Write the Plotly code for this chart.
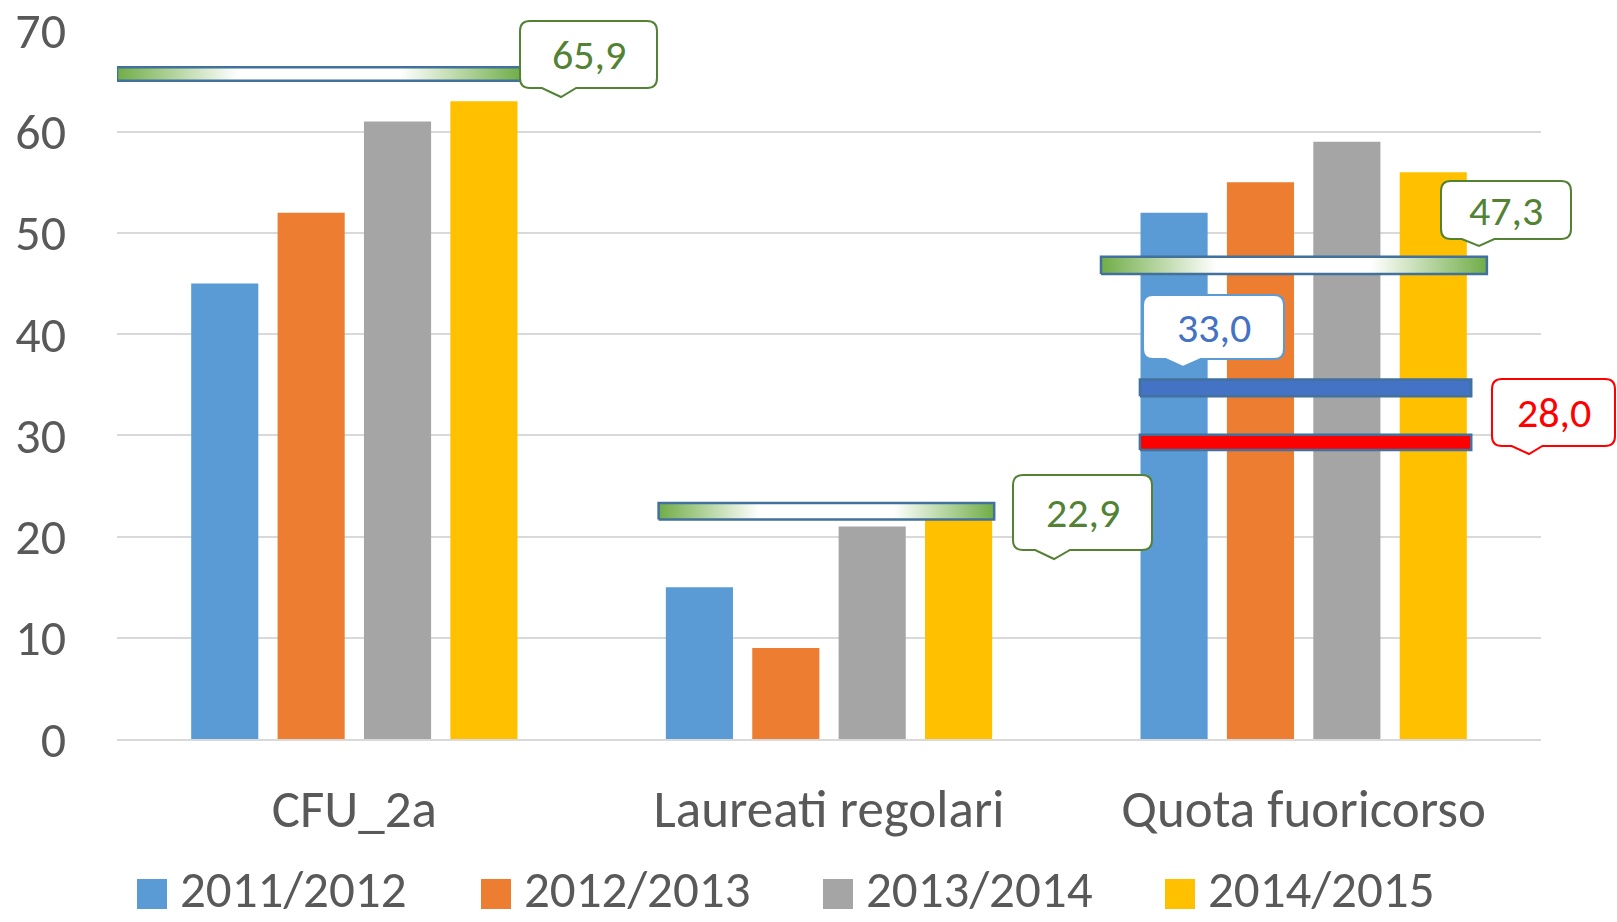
import plotly.graph_objects as go

# ---------------- data ----------------
categories = ["CFU_2a", "Laureati regolari", "Quota fuoricorso"]
years = ["2011/2012", "2012/2013", "2013/2014", "2014/2015"]
v_2011_2012 = [45, 15, 52]
v_2012_2013 = [52, 9, 55]
v_2013_2014 = [61, 21, 59]
v_2014_2015 = [63, 22, 56]
series_values = [v_2011_2012, v_2012_2013, v_2013_2014, v_2014_2015]

# reference (target) lines: label and level
target_labels = ["65,9", "22,9", "47,3", "33,0", "28,0"]
target_levels = [65.7, 22.5, 46.8, 34.7, 29.3]
target_category = [0, 1, 2, 2, 2]

# ---------------- style / layout ----------------
bar_colors = ["#5B9BD5", "#ED7D31", "#A5A5A5", "#FFC000"]
FONT = "Carlito, Lato, sans-serif"
TXT = "#595959"
W, H = 1617, 922
L, T = 117, 30
R = W - 1541
B = H - 739
PW, PH = W - L - R, H - T - B

# per-line horizontal extent relative to category centre, thickness (units), style
line_ext = [(-0.50, 0.352), (-0.359, 0.348), (-0.427, 0.386), (-0.345, 0.353), (-0.345, 0.353)]
line_thick = [1.35, 1.65, 1.7, 1.65, 1.5]
line_fill = ["grad", "grad", "grad", "#4472C4", "#FF0000"]
GRAD = [[0, "#70AD47"], [0.3, "#FFFFFF"], [0.7, "#FFFFFF"], [1, "#70AD47"]]

# callout boxes in page pixels: (x0, y0, x1, y1, tipx, tipy), border colour, text colour
callouts = [
    ((520, 21, 657, 88, 561, 97), "#548235", "#548235"),
    ((1013, 475, 1152, 550, 1054, 559), "#548235", "#548235"),
    ((1441, 181, 1571, 239, 1479, 246), "#548235", "#548235"),
    ((1143, 295, 1284, 359, 1183, 367), "#5B9BD5", "#4472C4"),
    ((1492, 379, 1615, 446, 1529, 454), "#FF0000", "#FF0000"),
]


def pxx(p):
    return (p - L) / PW


def pxy(p):
    return (H - B - p) / PH


fig = go.Figure()

for name, vals, col in zip(years, series_values, bar_colors):
    fig.add_trace(go.Bar(x=categories, y=vals, name=name, marker_color=col,
                         marker_line_width=0, showlegend=False))

# target lines drawn as filled rectangles on an overlaying linear x axis
for lvl, cat, ext, th, fl in zip(target_levels, target_category, line_ext, line_thick, line_fill):
    xa, xb = cat + ext[0], cat + ext[1]
    ya, yb = lvl - th / 2, lvl + th / 2
    kw = dict(x=[xa, xb, xb, xa, xa], y=[ya, ya, yb, yb, ya], mode="lines",
              fill="toself", line=dict(color="#41719C", width=2.5),
              xaxis="x2", yaxis="y", showlegend=False, hoverinfo="skip")
    if fl == "grad":
        kw["fillgradient"] = dict(type="horizontal", colorscale=GRAD)
    else:
        kw["fillcolor"] = fl
    fig.add_trace(go.Scatter(**kw))

shapes = []
annotations = []

# callouts
for (box, bcol, tcol), lab in zip(callouts, target_labels):
    x0, y0, x1, y1, tx, ty = box
    w = x1 - x0
    r = 10
    bl, br = x0 + 0.16 * w, x0 + 0.41 * w
    pts = [
        ("M", [(x0 + r, y0)]),
        ("L", [(x1 - r, y0)]),
        ("Q", [(x1, y0), (x1, y0 + r)]),
        ("L", [(x1, y1 - r)]),
        ("Q", [(x1, y1), (x1 - r, y1)]),
        ("L", [(br, y1)]),
        ("L", [(tx, ty)]),
        ("L", [(bl, y1)]),
        ("L", [(x0 + r, y1)]),
        ("Q", [(x0, y1), (x0, y1 - r)]),
        ("L", [(x0, y0 + r)]),
        ("Q", [(x0, y0), (x0 + r, y0)]),
    ]
    path = ""
    for cmd, ps in pts:
        path += cmd + " ".join(f"{pxx(a):.5f},{pxy(b):.5f}" for a, b in ps) + " "
    path += "Z"
    shapes.append(dict(type="path", path=path, xref="paper", yref="paper",
                       fillcolor="white", line=dict(color=bcol, width=2), layer="above"))
    annotations.append(dict(x=pxx((x0 + x1) / 2), y=pxy((y0 + y1) / 2), xref="paper", yref="paper",
                            text=lab, showarrow=False, xanchor="center", yanchor="middle",
                            font=dict(family=FONT, size=42, color=tcol)))

# manual legend
leg_x = [137, 481, 823, 1165]
for name, col, lx in zip(years, bar_colors, leg_x):
    shapes.append(dict(type="rect", xref="paper", yref="paper",
                       x0=pxx(lx), x1=pxx(lx + 30), y0=pxy(909), y1=pxy(879),
                       fillcolor=col, line=dict(width=0)))
    annotations.append(dict(x=pxx(lx + 41), y=pxy(890), xref="paper", yref="paper",
                            text=name, showarrow=False, xanchor="left", yanchor="middle",
                            font=dict(family=FONT, size=51, color=TXT)))

fig.update_layout(
    width=W, height=H,
    margin=dict(l=L, r=R, t=T, b=B, autoexpand=False),
    paper_bgcolor="white", plot_bgcolor="white",
    barmode="group", bargap=0.272, bargroupgap=0.223,
    font=dict(family=FONT, color=TXT),
    showlegend=False,
    shapes=shapes, annotations=annotations,
    xaxis=dict(type="category", range=[-0.5, 2.5], showgrid=False, showline=True,
               linecolor="#D9D9D9", linewidth=2, ticks="", automargin=False,
               tickfont=dict(family=FONT, size=53, color=TXT), ticklabelstandoff=22),
    xaxis2=dict(overlaying="x", range=[-0.5, 2.5], visible=False),
    yaxis=dict(range=[0, 70.05], tickvals=[0, 10, 20, 30, 40, 50, 60, 70], showgrid=True,
               gridcolor="#D9D9D9", gridwidth=1.5, ticklabeloverflow="allow",
               zeroline=False, showline=False, ticks="", automargin=False,
               tickfont=dict(family=FONT, size=50, color=TXT), ticklabelstandoff=50),
)

fig.write_html("out.html", config={"displayModeBar": False},
               post_script="document.body.style.margin='0';document.body.style.overflow='hidden';")
